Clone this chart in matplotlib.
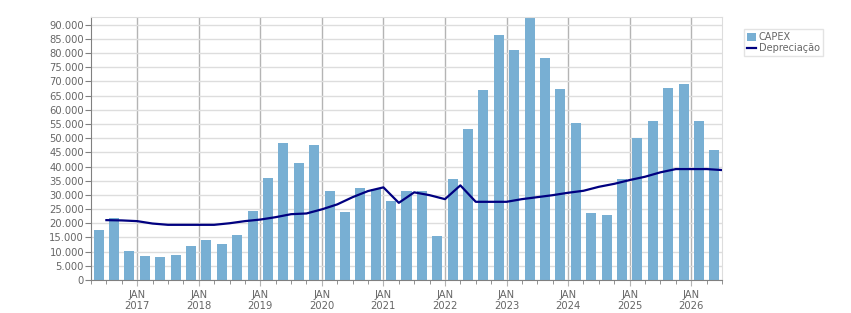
"""CAPEX trimestral (barras) x Depreciação (linha), 2T2016 a 2T2026."""
import numpy as np
import pandas as pd
import matplotlib
matplotlib.use('Agg')
import matplotlib.pyplot as plt
from matplotlib.ticker import FuncFormatter, MultipleLocator, FixedLocator

# trimestres 2016T2 .. 2026T2
quarters = pd.period_range('2016Q2', '2026Q2', freq='Q')

capex = [17600, 21800, 10200, 8500, 8100, 8800, 12000, 14100, 12700, 15900,
         24300, 36000, 48300, 41300, 47600, 31300, 24000, 32400, 32000, 27800,
         31300, 31300, 15400, 35500, 53300, 67000, 86500, 81200, 92600, 78300,
         67400, 55400, 23600, 22900, 35600, 50100, 56100, 67700, 69200, 56100,
         45800]

# depreciação, no fim de cada trimestre
depreciacao = [21100, 21000, 20750, 19900, 19450, 19450, 19450, 19450, 20000, 20750,
               21300, 22150, 23200, 23450, 24900, 26650, 29200, 31350, 32650, 27200,
               30900, 29900, 28500, 33350, 27560, 27560, 27560, 28500, 29200, 29900,
               30750, 31450, 32850, 33900, 35230, 36400, 37950, 39100, 39100, 39100,
               38750]

years = list(range(2017, 2027))
year_labels = [f'JAN\n{y}' for y in years]

BAR = '#78afd3'
LINE = '#000080'
TXT = '#666666'

x_mid = np.array([q.year + (q.quarter - 1) / 4 + 0.125 for q in quarters])
x_end = x_mid + 0.125

fig = plt.figure(figsize=(8.51, 3.13), dpi=100)
ax = fig.add_axes([91 / 851, 33 / 313, 631 / 851, 263 / 313])

b = ax.bar(x_mid, capex, width=0.1625, color=BAR, label='CAPEX', zorder=2)
l, = ax.plot(x_end, depreciacao, color=LINE, lw=1.6, label='Depreciação', zorder=3)

ax.set_xlim(2016.25, 2026.5)
ax.set_ylim(0, 92700)

ax.yaxis.set_major_locator(MultipleLocator(5000))
ax.yaxis.set_major_formatter(FuncFormatter(lambda v, p: f'{int(v):,}'.replace(',', '.')))
ax.xaxis.set_major_locator(FixedLocator(years))
ax.set_xticklabels(year_labels)
ax.xaxis.set_minor_locator(MultipleLocator(0.25))

ax.grid(axis='y', color='#dddddd', lw=1, zorder=0)
ax.grid(axis='x', which='major', color='#b4b4b4', lw=1, zorder=0)
ax.set_axisbelow(True)

for s in ['top', 'right']:
    ax.spines[s].set_color('#dddddd')
for s in ['left', 'bottom']:
    ax.spines[s].set_color('#808080')

ax.tick_params(axis='y', length=4, color='#808080', labelsize=7.2, labelcolor=TXT, pad=1)
ax.tick_params(axis='x', which='major', length=4, color='#b4b4b4', labelsize=7.2,
               labelcolor=TXT, pad=3)
ax.tick_params(axis='x', which='minor', length=3, color='#808080')

leg = fig.legend([b, l], ['CAPEX', 'Depreciação'], loc='upper left',
                 bbox_to_anchor=(744 / 851, 1 - 29 / 313),
                 fontsize=7, frameon=True, fancybox=False, borderpad=0.3,
                 handlelength=0.9, handleheight=0.9, handletextpad=0.3,
                 labelspacing=0.15, borderaxespad=0)
leg.get_frame().set_edgecolor('#dddddd')
leg.get_frame().set_linewidth(1)
for t in leg.get_texts():
    t.set_color(TXT)

fig.savefig('out.png', dpi=100)
